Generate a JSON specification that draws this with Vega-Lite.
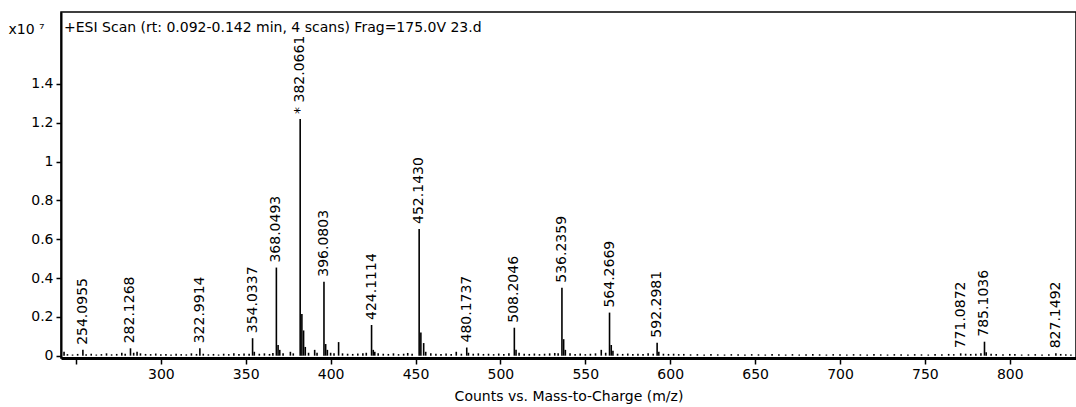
{
  "$schema": "https://vega.github.io/schema/vega-lite/v6.json",
  "width": 1015,
  "height": 346,
  "autosize": {"type": "none"},
  "padding": {"left": 61, "top": 12, "right": 0, "bottom": 49},
  "background": "white",
  "config": {
    "font": "DejaVu Sans",
    "view": {"stroke": "black", "strokeWidth": 1.5}
  },
  "title": {
    "text": "+ESI Scan (rt: 0.092-0.142 min, 4 scans) Frag=175.0V 23.d",
    "anchor": "start",
    "frame": "group",
    "offset": -23,
    "dx": 3,
    "fontSize": 14,
    "fontWeight": "normal",
    "color": "black"
  },
  "data": {
    "values": [
      {"mz": 254.0955, "i": 0.03, "label": "254.0955"},
      {"mz": 282.1268, "i": 0.038, "label": "282.1268"},
      {"mz": 322.9914, "i": 0.038, "label": "322.9914"},
      {"mz": 354.0337, "i": 0.09, "label": "354.0337"},
      {"mz": 368.0493, "i": 0.454, "label": "368.0493"},
      {"mz": 382.0661, "i": 1.22, "label": "* 382.0661"},
      {"mz": 396.0803, "i": 0.381, "label": "396.0803"},
      {"mz": 424.1114, "i": 0.158, "label": "424.1114"},
      {"mz": 452.143, "i": 0.653, "label": "452.1430"},
      {"mz": 480.1737, "i": 0.042, "label": "480.1737"},
      {"mz": 508.2046, "i": 0.144, "label": "508.2046"},
      {"mz": 536.2359, "i": 0.35, "label": "536.2359"},
      {"mz": 564.2669, "i": 0.222, "label": "564.2669"},
      {"mz": 592.2981, "i": 0.067, "label": "592.2981"},
      {"mz": 771.0872, "i": 0.012, "label": "771.0872"},
      {"mz": 785.1036, "i": 0.072, "label": "785.1036"},
      {"mz": 827.1492, "i": 0.012, "label": "827.1492"},
      {"mz": 243, "i": 0.02}, {"mz": 245, "i": 0.008}, {"mz": 248, "i": 0.006}, {"mz": 251, "i": 0.009},
      {"mz": 256, "i": 0.007}, {"mz": 259, "i": 0.01}, {"mz": 262, "i": 0.006}, {"mz": 265, "i": 0.008},
      {"mz": 268, "i": 0.012}, {"mz": 271, "i": 0.007}, {"mz": 274, "i": 0.009}, {"mz": 277, "i": 0.015},
      {"mz": 279, "i": 0.01}, {"mz": 284, "i": 0.015}, {"mz": 286, "i": 0.02}, {"mz": 288, "i": 0.012},
      {"mz": 291, "i": 0.009}, {"mz": 294, "i": 0.008}, {"mz": 297, "i": 0.011}, {"mz": 300, "i": 0.007},
      {"mz": 303, "i": 0.009}, {"mz": 306, "i": 0.006}, {"mz": 309, "i": 0.01}, {"mz": 312, "i": 0.008},
      {"mz": 315, "i": 0.007}, {"mz": 318, "i": 0.012}, {"mz": 321, "i": 0.009}, {"mz": 325, "i": 0.01},
      {"mz": 328, "i": 0.007}, {"mz": 331, "i": 0.009}, {"mz": 334, "i": 0.006}, {"mz": 337, "i": 0.01},
      {"mz": 340, "i": 0.008}, {"mz": 343, "i": 0.012}, {"mz": 346, "i": 0.009}, {"mz": 349, "i": 0.011},
      {"mz": 352, "i": 0.01}, {"mz": 355.04, "i": 0.02}, {"mz": 358, "i": 0.01}, {"mz": 361, "i": 0.012},
      {"mz": 364, "i": 0.009}, {"mz": 366, "i": 0.014}, {"mz": 369.05, "i": 0.055}, {"mz": 370.05, "i": 0.03},
      {"mz": 372, "i": 0.012}, {"mz": 376.3, "i": 0.02}, {"mz": 378, "i": 0.012}, {"mz": 383.07, "i": 0.215},
      {"mz": 384.07, "i": 0.13}, {"mz": 385.07, "i": 0.045}, {"mz": 387, "i": 0.015}, {"mz": 390.6, "i": 0.03},
      {"mz": 392, "i": 0.015}, {"mz": 397.08, "i": 0.06}, {"mz": 398.08, "i": 0.03}, {"mz": 400, "i": 0.015},
      {"mz": 402, "i": 0.012}, {"mz": 404.7, "i": 0.07}, {"mz": 407, "i": 0.012}, {"mz": 410, "i": 0.01},
      {"mz": 413, "i": 0.009}, {"mz": 416, "i": 0.011}, {"mz": 419, "i": 0.013}, {"mz": 421, "i": 0.015},
      {"mz": 425.11, "i": 0.03}, {"mz": 426, "i": 0.02}, {"mz": 428, "i": 0.012}, {"mz": 431, "i": 0.01},
      {"mz": 434, "i": 0.009}, {"mz": 437, "i": 0.012}, {"mz": 440, "i": 0.008}, {"mz": 443, "i": 0.01},
      {"mz": 445.4, "i": 0.014}, {"mz": 448, "i": 0.01}, {"mz": 453.15, "i": 0.12}, {"mz": 454.8, "i": 0.065},
      {"mz": 456, "i": 0.02}, {"mz": 459, "i": 0.012}, {"mz": 462, "i": 0.01}, {"mz": 465, "i": 0.009},
      {"mz": 468, "i": 0.011}, {"mz": 471, "i": 0.008}, {"mz": 474, "i": 0.02}, {"mz": 477, "i": 0.01},
      {"mz": 481.17, "i": 0.015}, {"mz": 484, "i": 0.01}, {"mz": 487, "i": 0.012}, {"mz": 490, "i": 0.009},
      {"mz": 493, "i": 0.01}, {"mz": 496, "i": 0.008}, {"mz": 499, "i": 0.011}, {"mz": 502, "i": 0.009},
      {"mz": 505, "i": 0.012}, {"mz": 509.2, "i": 0.03}, {"mz": 511, "i": 0.015}, {"mz": 514, "i": 0.01},
      {"mz": 517, "i": 0.009}, {"mz": 520, "i": 0.011}, {"mz": 523, "i": 0.008}, {"mz": 526, "i": 0.01},
      {"mz": 529, "i": 0.012}, {"mz": 532, "i": 0.014}, {"mz": 534, "i": 0.012}, {"mz": 537.24, "i": 0.085},
      {"mz": 538.24, "i": 0.03}, {"mz": 541, "i": 0.012}, {"mz": 544, "i": 0.009}, {"mz": 547, "i": 0.011},
      {"mz": 550, "i": 0.008}, {"mz": 553, "i": 0.01}, {"mz": 556, "i": 0.012}, {"mz": 559.4, "i": 0.03},
      {"mz": 562, "i": 0.015}, {"mz": 565.27, "i": 0.055}, {"mz": 566.27, "i": 0.025}, {"mz": 569, "i": 0.01},
      {"mz": 572, "i": 0.009}, {"mz": 575, "i": 0.011}, {"mz": 578, "i": 0.008}, {"mz": 581, "i": 0.01},
      {"mz": 584, "i": 0.009}, {"mz": 587, "i": 0.012}, {"mz": 590, "i": 0.01}, {"mz": 593.3, "i": 0.02},
      {"mz": 596, "i": 0.01}, {"mz": 599, "i": 0.009}, {"mz": 602, "i": 0.01}, {"mz": 605, "i": 0.008},
      {"mz": 608, "i": 0.009}, {"mz": 612, "i": 0.007}, {"mz": 616, "i": 0.008}, {"mz": 620, "i": 0.006},
      {"mz": 624, "i": 0.008}, {"mz": 628, "i": 0.007}, {"mz": 632, "i": 0.006}, {"mz": 636, "i": 0.008},
      {"mz": 640, "i": 0.007}, {"mz": 644, "i": 0.006}, {"mz": 648, "i": 0.008}, {"mz": 652, "i": 0.007},
      {"mz": 656, "i": 0.006}, {"mz": 660, "i": 0.008}, {"mz": 664, "i": 0.007}, {"mz": 668, "i": 0.006},
      {"mz": 672, "i": 0.008}, {"mz": 676, "i": 0.006}, {"mz": 680, "i": 0.007}, {"mz": 684, "i": 0.008},
      {"mz": 688, "i": 0.007}, {"mz": 692, "i": 0.006}, {"mz": 696, "i": 0.008}, {"mz": 700, "i": 0.007},
      {"mz": 704, "i": 0.006}, {"mz": 708, "i": 0.008}, {"mz": 712, "i": 0.007}, {"mz": 716, "i": 0.006},
      {"mz": 720, "i": 0.008}, {"mz": 724, "i": 0.007}, {"mz": 728, "i": 0.006}, {"mz": 732, "i": 0.008},
      {"mz": 736, "i": 0.007}, {"mz": 740, "i": 0.006}, {"mz": 744, "i": 0.008}, {"mz": 748, "i": 0.007},
      {"mz": 752, "i": 0.006}, {"mz": 756, "i": 0.008}, {"mz": 760, "i": 0.007}, {"mz": 764, "i": 0.009},
      {"mz": 767, "i": 0.008}, {"mz": 774, "i": 0.01}, {"mz": 777, "i": 0.009}, {"mz": 780, "i": 0.01},
      {"mz": 783, "i": 0.012}, {"mz": 786.1, "i": 0.018}, {"mz": 789, "i": 0.01}, {"mz": 792, "i": 0.008},
      {"mz": 796, "i": 0.007}, {"mz": 800, "i": 0.009}, {"mz": 803, "i": 0.008}, {"mz": 807, "i": 0.006},
      {"mz": 811, "i": 0.007}, {"mz": 815, "i": 0.008}, {"mz": 819, "i": 0.006}, {"mz": 823, "i": 0.007},
      {"mz": 830, "i": 0.009}, {"mz": 833, "i": 0.007}, {"mz": 836, "i": 0.006}
    ]
  },
  "layer": [
    {
      "mark": {"type": "rule", "color": "black", "strokeWidth": 1.6},
      "encoding": {
        "x": {
          "field": "mz",
          "type": "quantitative",
          "scale": {"domain": [241.2, 839], "nice": false, "zero": false},
          "axis": {
            "values": [250, 300, 350, 400, 450, 500, 550, 600, 650, 700, 750, 800],
            "labelExpr": "datum.value == 250 ? '' : datum.label",
            "grid": false,
            "domainColor": "black",
            "domainWidth": 3,
            "tickColor": "black",
            "tickWidth": 1.5,
            "tickSize": 6,
            "labelColor": "black",
            "labelFontSize": 14,
            "labelPadding": 3,
            "title": "Counts vs. Mass-to-Charge (m/z)",
            "titleFontSize": 14,
            "titleFontWeight": "normal",
            "titleColor": "black",
            "titlePadding": 8
          }
        },
        "y": {
          "field": "i",
          "type": "quantitative",
          "scale": {"domain": [-0.012, 1.771], "nice": false, "zero": false},
          "axis": {
            "values": [0, 0.2, 0.4, 0.6, 0.8, 1, 1.2, 1.4],
            "format": "~g",
            "grid": false,
            "domainColor": "black",
            "domainWidth": 2,
            "tickColor": "black",
            "tickWidth": 1.5,
            "tickSize": 5,
            "labelColor": "black",
            "labelFontSize": 14,
            "labelPadding": 3,
            "title": "x10 ⁷",
            "titleAngle": 0,
            "titleX": -53,
            "titleY": 17,
            "titleAlign": "left",
            "titleBaseline": "middle",
            "titleFontSize": 14,
            "titleFontWeight": "normal",
            "titleColor": "black"
          }
        },
        "y2": {"datum": 0}
      }
    },
    {
      "transform": [{"filter": "datum.label"}],
      "mark": {
        "type": "text",
        "angle": 270,
        "align": "left",
        "baseline": "middle",
        "dx": 5,
        "fontSize": 14,
        "color": "black"
      },
      "encoding": {
        "x": {"field": "mz", "type": "quantitative"},
        "y": {"field": "i", "type": "quantitative"},
        "text": {"field": "label"}
      }
    }
  ]
}
